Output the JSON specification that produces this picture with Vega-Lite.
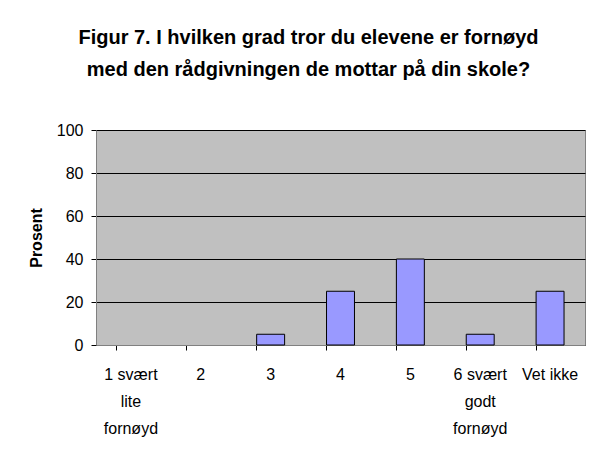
{
  "$schema": "https://vega.github.io/schema/vega-lite/v6.json",
  "width": 489,
  "height": 215,
  "autosize": "none",
  "padding": {"left": 96, "top": 130, "right": 8, "bottom": 112},
  "background": "white",
  "title": {
    "text": ["Figur 7. I hvilken grad tror du elevene er fornøyd", "med den rådgivningen de mottar på din skole?"],
    "font": "Liberation Sans",
    "fontSize": 20,
    "fontWeight": "bold",
    "color": "black",
    "anchor": "middle",
    "frame": "group",
    "dx": -32,
    "lineHeight": 32,
    "offset": 42
  },
  "data": {
    "values": [
      {"kategori": "1 svært lite fornøyd", "prosent": 0},
      {"kategori": "2", "prosent": 0},
      {"kategori": "3", "prosent": 5},
      {"kategori": "4", "prosent": 25},
      {"kategori": "5", "prosent": 40},
      {"kategori": "6 svært godt fornøyd", "prosent": 5},
      {"kategori": "Vet ikke", "prosent": 25}
    ]
  },
  "mark": {"type": "bar", "color": "#9999FF", "stroke": "black", "strokeWidth": 1},
  "encoding": {
    "strokeOpacity": {
      "condition": {"test": "datum.prosent > 0", "value": 1},
      "value": 0
    },
    "x": {
      "field": "kategori",
      "type": "nominal",
      "sort": null,
      "scale": {"paddingInner": 0.6, "paddingOuter": 0.3},
      "axis": {
        "title": null,
        "labelAngle": 0,
        "labelFont": "Liberation Sans",
        "labelFontSize": 16,
        "labelColor": "black",
        "labelPadding": 24,
        "labelLineHeight": 27,
        "labelBaseline": "middle",
        "labelExpr": "datum.label == '1 svært lite fornøyd' ? ['1 svært', 'lite', 'fornøyd'] : datum.label == '6 svært godt fornøyd' ? ['6 svært', 'godt', 'fornøyd'] : datum.label",
        "bandPosition": 0,
        "tickColor": "black",
        "tickSize": 5,
        "domainColor": "#808080",
        "grid": false
      }
    },
    "y": {
      "field": "prosent",
      "type": "quantitative",
      "scale": {"domain": [0, 100]},
      "axis": {
        "title": "Prosent",
        "titleFont": "Liberation Sans",
        "titleFontSize": 16,
        "titleFontWeight": "bold",
        "titleColor": "black",
        "titlePadding": 12,
        "values": [0, 20, 40, 60, 80, 100],
        "labelFont": "Liberation Sans",
        "labelFontSize": 16,
        "labelColor": "black",
        "labelPadding": 8,
        "tickColor": "black",
        "tickSize": 5,
        "domainColor": "#808080",
        "grid": true,
        "gridColor": "black",
        "gridOpacity": 1,
        "gridWidth": 1
      }
    }
  },
  "config": {
    "view": {"fill": "#C0C0C0", "stroke": "#808080", "strokeWidth": 1}
  }
}
